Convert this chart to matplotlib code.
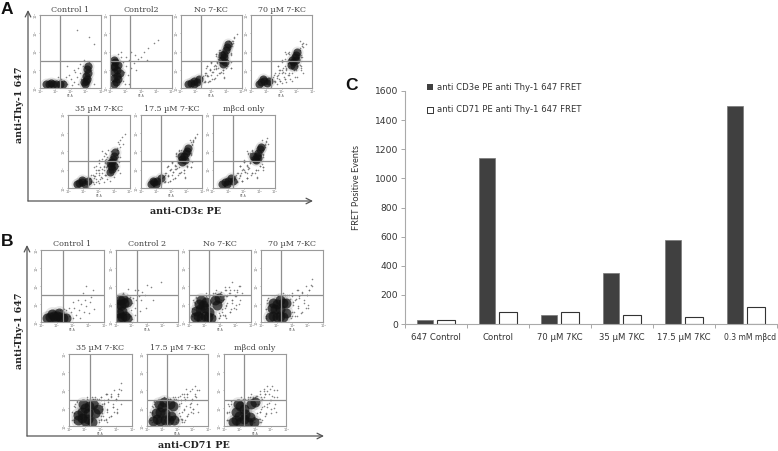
import matplotlib
matplotlib.use('Agg')
import matplotlib.pyplot as plt

W, H = 778, 451

# bar chart values
groups = ['647 Control', 'Control', '70 µM 7KC', '35 µM 7KC', '17.5 µM 7KC', '0.3 mM mβcd']
cd3_values = [25, 1140, 60, 350, 575, 1500]
cd71_values = [30, 85, 85, 60, 50, 120]
bar_ticks = [0, 200, 400, 600, 800, 1000, 1200, 1400, 1600]

titles_a = ['Control 1', 'Control2', 'No 7-KC', '70 µM 7-KC', '35 µM 7-KC', '17.5 µM 7-KC', 'mβcd only']
titles_b = ['Control 1', 'Control 2', 'No 7-KC', '70 µM 7-KC', '35 µM 7-KC', '17.5 µM 7-KC', 'mβcd only']

a1_core = [(.1, .05), (.14, .06), (.18, .07), (.22, .06), (.27, .05), (.32, .06), (.37, .05), (.72, .08), (.75, .1), (.77, .13), (.76, .17), (.78, .21), (.77, .26), (.78, .3), (.74, .05)]
a1_spray = [(.4, .1), (.45, .06), (.5, .12), (.55, .08), (.6, .15), (.63, .06), (.66, .2), (.58, .22), (.48, .18), (.42, .15), (.68, .12), (.7, .3), (.35, .12), (.52, .04), (.62, .28), (.72, .38), (.8, .36), (.45, .3), (.3, .15), (.82, .14), (.88, .05), (.83, .25), (.8, .7), (.88, .6), (.6, .8), (.55, .25), (.66, .33)]
a2_core = [(.05, .05), (.09, .08), (.05, .14), (.1, .16), (.06, .22), (.11, .25), (.06, .29), (.12, .31), (.08, .35), (.05, .38), (.13, .12), (.15, .2), (.05, .3)]
a2_spray = [(.2, .1), (.22, .22), (.25, .3), (.2, .36), (.18, .42), (.25, .42), (.3, .38), (.28, .18), (.33, .27), (.38, .34), (.4, .45), (.45, .4), (.23, .05), (.3, .06), (.12, .46), (.17, .5), (.33, .5), (.55, .5), (.62, .55), (.72, .62), (.78, .66), (.42, .24), (.5, .42), (.6, .38)]
a3_core = [(.12, .05), (.17, .07), (.22, .1), (.27, .08), (.3, .12), (.22, .05), (.68, .38), (.71, .42), (.72, .47), (.75, .52), (.76, .56), (.78, .6), (.7, .33), (.73, .36), (.68, .45)]
a3_spray = [(.35, .14), (.4, .18), (.44, .16), (.48, .24), (.5, .18), (.55, .26), (.58, .3), (.6, .36), (.62, .28), (.64, .42), (.38, .08), (.45, .08), (.52, .12), (.6, .18), (.66, .22), (.7, .2), (.75, .28), (.82, .48), (.85, .65), (.88, .7), (.92, .74), (.82, .62), (.58, .44), (.5, .34), (.42, .28), (.65, .52), (.83, .35)]
a4_core = [(.13, .06), (.17, .08), (.22, .1), (.26, .07), (.2, .13), (.3, .1), (.66, .32), (.69, .36), (.72, .42), (.74, .45), (.7, .3), (.67, .38), (.73, .38), (.75, .5)]
a4_spray = [(.34, .12), (.38, .18), (.42, .14), (.46, .2), (.5, .24), (.55, .2), (.58, .28), (.6, .34), (.62, .4), (.4, .08), (.48, .1), (.55, .13), (.62, .18), (.68, .2), (.74, .24), (.8, .32), (.82, .42), (.8, .52), (.85, .56), (.9, .6), (.6, .48), (.5, .38), (.45, .3), (.56, .5), (.82, .24)]
a5_core = [(.14, .06), (.18, .07), (.23, .08), (.27, .06), (.32, .09), (.22, .11), (.69, .22), (.71, .26), (.7, .3), (.72, .35), (.73, .4), (.75, .44), (.76, .49), (.74, .3), (.69, .34)]
a5_spray = [(.38, .1), (.42, .16), (.46, .12), (.5, .2), (.54, .15), (.58, .24), (.6, .18), (.63, .3), (.64, .12), (.66, .38), (.6, .38), (.52, .28), (.46, .24), (.42, .06), (.5, .07), (.58, .08), (.68, .1), (.75, .15), (.82, .3), (.84, .42), (.8, .55), (.83, .6), (.62, .46), (.55, .4), (.7, .5), (.85, .2)]
a6_core = [(.17, .06), (.22, .08), (.27, .1), (.32, .13), (.25, .05), (.2, .1), (.68, .4), (.71, .43), (.73, .47), (.75, .5), (.77, .55), (.68, .35), (.72, .38), (.66, .43)]
a6_spray = [(.36, .15), (.4, .2), (.44, .18), (.48, .25), (.52, .22), (.55, .3), (.58, .26), (.6, .34), (.62, .4), (.4, .09), (.47, .1), (.55, .13), (.63, .2), (.7, .24), (.76, .3), (.82, .45), (.84, .58), (.86, .62), (.8, .65), (.58, .46), (.5, .36), (.44, .3), (.63, .5), (.82, .28), (.72, .15)]
a7_core = [(.15, .06), (.2, .08), (.25, .1), (.3, .14), (.23, .05), (.33, .1), (.68, .4), (.72, .44), (.74, .48), (.76, .53), (.78, .56), (.7, .38), (.74, .41), (.66, .43)]
a7_spray = [(.37, .16), (.41, .2), (.45, .17), (.49, .26), (.53, .22), (.56, .31), (.59, .27), (.6, .35), (.62, .42), (.4, .08), (.48, .1), (.56, .14), (.64, .2), (.7, .25), (.76, .3), (.82, .46), (.84, .6), (.86, .64), (.88, .68), (.58, .47), (.5, .36), (.44, .3), (.63, .52), (.82, .28), (.72, .14)]
b1_core = [(.1, .05), (.15, .07), (.2, .08), (.25, .09), (.3, .07), (.35, .05), (.22, .05), (.28, .12), (.18, .11), (.4, .06)]
b1_spray = [(.45, .08), (.48, .14), (.5, .05), (.53, .2), (.56, .1), (.6, .16), (.62, .06), (.64, .25), (.68, .14), (.7, .3), (.72, .22), (.76, .12), (.78, .28), (.44, .2), (.4, .16), (.36, .18), (.5, .28), (.58, .3), (.8, .35), (.72, .5), (.84, .18), (.82, .45), (.3, .17), (.66, .4)]
b2_core = [(.05, .05), (.1, .07), (.15, .09), (.05, .12), (.1, .15), (.08, .23), (.13, .26), (.07, .3), (.12, .32), (.17, .28), (.17, .05), (.05, .25)]
b2_spray = [(.22, .08), (.24, .16), (.26, .26), (.22, .35), (.28, .33), (.3, .2), (.3, .1), (.18, .38), (.12, .4), (.33, .3), (.37, .36), (.35, .44), (.3, .44), (.4, .3), (.42, .42), (.46, .38), (.5, .52), (.56, .48), (.2, .46), (.6, .3), (.48, .2), (.72, .55), (.25, .04), (.38, .15)]
b3_core = [(.1, .07), (.15, .09), (.2, .06), (.25, .08), (.3, .07), (.35, .06), (.17, .18), (.22, .24), (.27, .28), (.2, .3), (.25, .2), (.32, .14), (.42, .3), (.48, .34), (.12, .15), (.16, .25), (.45, .24)]
b3_spray = [(.05, .08), (.05, .18), (.06, .3), (.42, .08), (.48, .12), (.55, .1), (.58, .2), (.55, .3), (.6, .36), (.62, .26), (.65, .4), (.68, .18), (.7, .3), (.72, .44), (.76, .36), (.65, .48), (.7, .56), (.38, .4), (.44, .44), (.52, .42), (.8, .25), (.8, .5), (.85, .4), (.3, .38), (.58, .48), (.48, .05)]
b4_core = [(.15, .07), (.2, .09), (.25, .07), (.3, .08), (.35, .07), (.22, .18), (.26, .25), (.2, .27), (.3, .3), (.35, .26), (.18, .2), (.3, .18), (.4, .12), (.4, .26)]
b4_spray = [(.08, .08), (.08, .18), (.1, .3), (.47, .08), (.5, .14), (.55, .08), (.52, .24), (.55, .3), (.6, .2), (.62, .34), (.66, .42), (.7, .26), (.74, .38), (.78, .45), (.8, .52), (.82, .6), (.42, .38), (.36, .4), (.5, .4), (.58, .44), (.64, .12), (.28, .38), (.76, .2), (.46, .32), (.72, .5)]
b5_core = [(.14, .08), (.2, .11), (.25, .07), (.3, .1), (.36, .06), (.2, .2), (.26, .25), (.32, .28), (.38, .3), (.22, .3), (.15, .15), (.3, .18), (.42, .18), (.46, .24)]
b5_spray = [(.08, .06), (.08, .18), (.1, .27), (.5, .08), (.54, .14), (.58, .09), (.52, .28), (.56, .32), (.6, .22), (.62, .36), (.66, .4), (.7, .3), (.74, .38), (.78, .44), (.82, .5), (.45, .38), (.38, .38), (.5, .36), (.12, .33), (.66, .14), (.28, .36), (.76, .24), (.6, .44), (.48, .06), (.72, .2)]
b6_core = [(.1, .07), (.16, .1), (.22, .07), (.3, .09), (.36, .08), (.22, .2), (.24, .27), (.2, .3), (.28, .33), (.38, .3), (.42, .28), (.14, .18), (.3, .18), (.4, .14), (.44, .08)]
b6_spray = [(.05, .08), (.05, .2), (.08, .28), (.5, .1), (.53, .18), (.58, .1), (.52, .3), (.56, .36), (.6, .24), (.62, .38), (.66, .44), (.7, .26), (.74, .36), (.78, .42), (.5, .4), (.42, .4), (.34, .38), (.66, .14), (.12, .35), (.76, .18), (.58, .44), (.82, .3), (.6, .06), (.47, .38), (.28, .4)]
b7_core = [(.14, .06), (.2, .09), (.26, .06), (.32, .1), (.38, .06), (.2, .2), (.26, .28), (.22, .3), (.32, .24), (.24, .14), (.34, .17), (.44, .3), (.5, .33), (.42, .12), (.48, .06)]
b7_spray = [(.07, .08), (.08, .2), (.12, .3), (.56, .1), (.58, .2), (.62, .08), (.56, .36), (.6, .4), (.64, .28), (.66, .44), (.7, .48), (.74, .52), (.78, .56), (.72, .32), (.8, .4), (.84, .2), (.54, .42), (.46, .4), (.38, .38), (.68, .16), (.76, .24), (.64, .52), (.3, .36), (.86, .5), (.58, .05)]

# panels with the same cloud shape also take the neighbour's spray, so the grain is thicker
cloud_a = [(a1_core, a1_spray), (a2_core, a2_spray), (a3_core, a3_spray + a6_spray + a7_spray), (a4_core, a4_spray + a5_spray + a6_spray),
           (a5_core, a5_spray + a4_spray + a3_spray), (a6_core, a6_spray + a7_spray + a3_spray), (a7_core, a7_spray + a6_spray + a4_spray)]
cloud_b = [(b1_core, b1_spray), (b2_core, b2_spray), (b3_core, b3_spray + b5_spray + b6_spray), (b4_core, b4_spray + b5_spray),
           (b5_core, b5_spray + b4_spray + b6_spray), (b6_core, b6_spray + b7_spray + b5_spray), (b7_core, b7_spray + b6_spray + b3_spray)]

fig = plt.figure(figsize=(W / 100, H / 100), dpi=100)


def pixel_axes(x0, x1, y0, y1):
    return fig.add_axes([x0 / W, 1 - y1 / H, (x1 - x0) / W, (y1 - y0) / H])


def dot_panel(box, gate_x, gate_y, title, core, spray, blob):
    x0, x1, y0, y1 = box
    ax = pixel_axes(x0, x1, y0, y1)
    ax.set_xlim(0, 1)
    ax.set_ylim(0, 1)
    ax.scatter(*zip(*spray), s=1.3, color='#666666', alpha=0.8, linewidths=0)
    ax.scatter(*zip(*core), s=blob * 2.2, color='#666666', alpha=0.15, linewidths=0)
    ax.scatter(*zip(*core), s=blob, color='#111111', alpha=0.7, linewidths=0)
    ax.axvline((gate_x - x0) / (x1 - x0), color='#8f8f8f', lw=0.9)
    ax.axhline((y1 - gate_y) / (y1 - y0), color='#8f8f8f', lw=0.9)
    for side in ax.spines.values():
        side.set_color('#9a9a9a')
        side.set_linewidth(0.8)
    ax.set_xticks([0, .25, .5, .75, 1])
    ax.set_yticks([0, .25, .5, .75, 1])
    ax.set_xticklabels(['10⁰', '10¹', '10²', '10³', '10⁴'], fontsize=2.4, color='#666666')
    ax.set_yticklabels(['10⁰', '10¹', '10²', '10³', '10⁴'], fontsize=2.4, color='#666666', rotation=90, va='center')
    ax.tick_params(length=1, width=0.4, pad=0.5, color='#777777')
    ax.text(0.5, -0.085, 'PE-A', transform=ax.transAxes, fontsize=2.2, color='#666666', ha='center', va='top')
    fig.text((x0 + x1) / 2 / W, 1 - (y0 - 1.5) / H, title, family='DejaVu Serif', fontsize=5.8,
             color='#444444', ha='center', va='bottom')


boxes_a = [(40, 101, 15, 88), (110.5, 171.5, 15, 88), (180.5, 241.5, 15, 88), (251, 312, 15, 88),
           (68, 129.5, 114.5, 188), (141, 202, 114.5, 188), (212.5, 274.5, 114.5, 188)]
gates_a = [(60, 61), (130, 61), (201, 61), (271, 61), (88, 160.5), (161, 160.5), (233, 160.5)]
boxes_b = [(41, 104, 250, 322), (116, 178, 250, 322), (189, 251, 250, 322), (261, 323, 250, 322),
           (69, 132, 354, 426), (147, 208, 354, 426), (224, 286, 354, 426)]
gates_b = [(63, 295), (137, 295), (209, 295), (281, 295), (90, 400), (167, 400), (244, 400)]

for box, gate, title, cloud in zip(boxes_a, gates_a, titles_a, cloud_a):
    dot_panel(box, gate[0], gate[1], title, cloud[0], cloud[1], 34)
for box, gate, title, cloud in zip(boxes_b, gates_b, titles_b, cloud_b):
    dot_panel(box, gate[0], gate[1], title, cloud[0], cloud[1], 52)

# panel C
ax = pixel_axes(405, 777, 91, 324)
pos = list(range(len(groups)))
ax.bar([p - 0.178 for p in pos], cd3_values, 0.265, color='#404040', edgecolor='#777777', linewidth=0.5)
ax.bar([p + 0.16 for p in pos], cd71_values, 0.28, color='white', edgecolor='#333333', linewidth=0.8)
ax.set_xlim(-0.5, len(groups) - 0.5)
ax.set_ylim(0, 1600)
ax.set_yticks(bar_ticks)
ax.set_xticks([p - 0.5 for p in pos] + [len(groups) - 0.5])
ax.set_xticklabels([])
label_shift = [0, 0, 0, 0, 0, 0.06]
label_size = [6.1, 6.1, 6.1, 6.1, 6.1, 5.5]
for p, g, s, fs in zip(pos, groups, label_shift, label_size):
    ax.text(p + s, -90, g, fontsize=fs, color='#333333', ha='center', va='center')
ax.tick_params(axis='y', labelsize=6.6, labelcolor='#333333', length=3, width=0.6, color='#999999', pad=2)
ax.tick_params(axis='x', length=3, width=0.6, color='#999999')
ax.spines['top'].set_visible(False)
ax.spines['right'].set_visible(False)
ax.spines['left'].set_color('#aaaaaa')
ax.spines['bottom'].set_color('#aaaaaa')

# big axis arrows round the dot plots, on a full figure overlay
over = fig.add_axes([0, 0, 1, 1], facecolor='none', zorder=10)
over.set_xlim(0, W)
over.set_ylim(H, 0)
over.axis('off')
for ox, oy, top, right in [(28, 201, 10, 313), (27, 436, 245, 324)]:
    over.annotate('', xy=(ox, top), xytext=(ox, oy), arrowprops=dict(arrowstyle='->', color='#555555', lw=0.9, shrinkA=0, shrinkB=0))
    over.annotate('', xy=(right, oy), xytext=(ox, oy), arrowprops=dict(arrowstyle='->', color='#555555', lw=0.9, shrinkA=0, shrinkB=0))

serif = dict(family='DejaVu Serif', fontweight='bold', color='#222222', fontsize=6.8)
over.text(20, 105, 'anti-Thy-1 647', rotation=90, ha='center', va='center', **serif)
over.text(186, 211, 'anti-CD3ε PE', ha='center', va='center', **serif)
over.text(20, 331, 'anti-Thy-1 647', rotation=90, ha='center', va='center', **serif)
over.text(194, 446, 'anti-CD71 PE', ha='center', va='center', **serif)
letters = dict(family='Liberation Sans', fontweight='bold', color='#111111', fontsize=12.5, ha='left', va='center')
over.text(1, 10, 'A', **letters)
over.text(1, 242, 'B', **letters)
over.text(345, 86, 'C', **letters)

over.text(357, 187, 'FRET Positive Events', family='Lato', rotation=90, fontsize=6.6, color='#333333', ha='center', va='center')
over.scatter([430], [87], marker='s', s=22, color='#404040', linewidths=0, zorder=5)
over.scatter([430], [110], marker='s', s=20, facecolor='white', edgecolor='#333333', linewidths=0.7, zorder=5)
over.text(437, 87, 'anti CD3e PE anti Thy-1 647 FRET', fontsize=6.1, color='#333333', ha='left', va='center')
over.text(437, 110, 'anti CD71 PE anti Thy-1 647 FRET', fontsize=6.1, color='#333333', ha='left', va='center')

fig.savefig('out.png', dpi=100)
